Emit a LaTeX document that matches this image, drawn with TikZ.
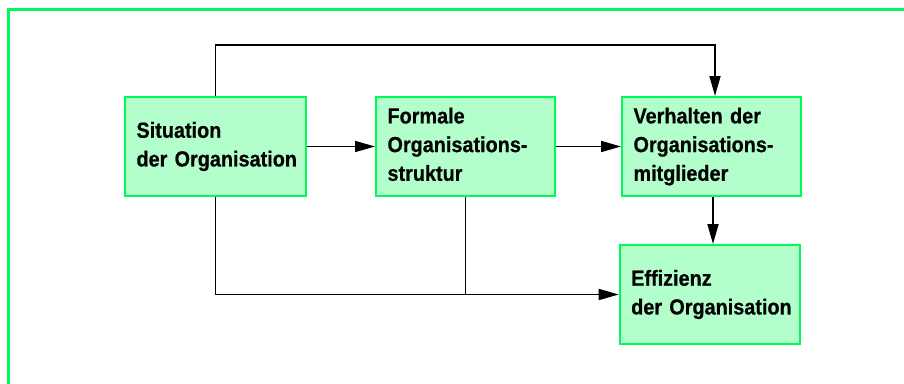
\documentclass[tikz,border=0pt]{standalone}
\usepackage{fontspec}
\setsansfont{Liberation Sans}[FakeStretch=0.91,BoldFeatures={FakeBold=0.6}]
\usetikzlibrary{arrows.meta}
\definecolor{framegreen}{RGB}{0,250,90}
\definecolor{boxfill}{RGB}{179,255,204}
\newcommand\boxtextfont{\sffamily\bfseries\fontsize{21.8}{28.7}\selectfont}
% one unbreakable line with a fixed strut
\newcommand\boxline[1]{\mbox{\rule[-4.6pt]{0pt}{20.2pt}#1}}

\begin{document}
\begin{tikzpicture}[x=1pt,y=-1pt,
  box/.style={draw=framegreen, line width=2pt, fill=boxfill, rectangle,
    anchor=north west, inner xsep=11.5pt, inner ysep=0pt,
    minimum height=99pt, align=left, font=\boxtextfont},
  link/.style={line width=1.7pt, -{Triangle[length=20pt,width=11pt]}},
  plain/.style={line width=1.7pt}]

  % picture area
  \clip (0,0) rectangle (904,383);
  \fill[white] (0,0) rectangle (904,383);

  % outer frame, open to the right and bottom
  \draw[framegreen, line width=2.7pt] (8.7,420) -- (8.7,9.3) -- (950,9.3);

  % boxes
  \node[box, minimum width=181pt, text width=158pt] (sit)  at (124,96)
    {\boxline{Situation}\\\boxline{der Organisation}};
  \node[box, minimum width=179pt, text width=156pt] (form) at (375,96)
    {\boxline{Formale}\\\boxline{Organisations-}\\\boxline{struktur}};
  \node[box, minimum width=179pt, text width=156pt] (verh) at (621,96)
    {\boxline{Verhalten der}\\\boxline{Organisations-}\\\boxline{mitglieder}};
  \node[box, minimum width=180.5pt, text width=157.5pt] (eff) at (618.7,244)
    {\boxline{Effizienz}\\\boxline{der Organisation}};

  % connectors
  \draw[link] (sit) -- (form);
  \draw[link] (form) -- (verh);
  \draw[link] (sit.north) -- (sit.north |- 0,45.3) -| ([xshift=3.5pt]verh.north);
  \draw[link] ([xshift=1.5pt]verh.south) -- ([xshift=1.5pt]verh.south |- eff.north);
  \draw[link] (sit.south) |- (eff.west);
  \draw[plain] (form.south) -- (form.south |- eff.west);
\end{tikzpicture}
\end{document}
